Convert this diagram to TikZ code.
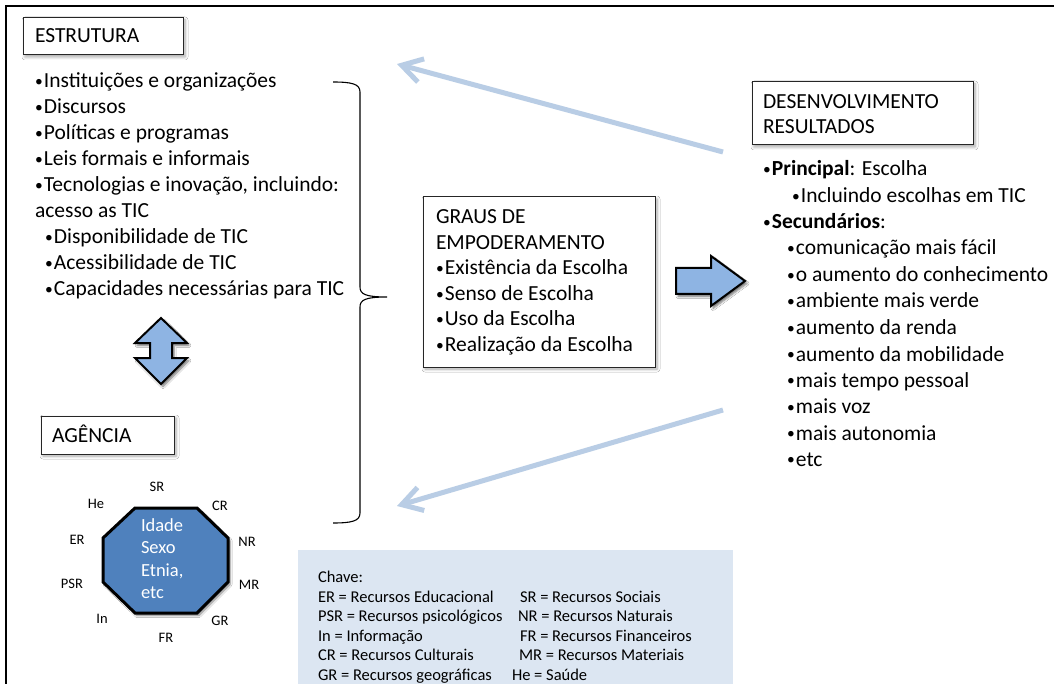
\documentclass[tikz,border=0pt]{standalone}
\usepackage{fontspec}
\setmainfont{Carlito}
\usetikzlibrary{arrows.meta,shadows.blur}

\definecolor{linkblue}{HTML}{B9CDE5}
\definecolor{arrowfill}{HTML}{8EB4E3}
\definecolor{octfill}{HTML}{4F81BD}
\definecolor{keyfill}{HTML}{DCE6F2}

% small list bullet
\newcommand{\bul}{{\fontsize{15.5}{15.5}\selectfont\raisebox{1.2pt}{•}}\kern1.2pt}

\begin{document}
\begin{tikzpicture}[x=1pt,y=-1pt,
  every node/.style={inner sep=0pt, outer sep=0pt},
  txt/.style={anchor=base west, font=\fontsize{21.5}{26}\selectfont},
  keytxt/.style={anchor=base west, font=\fontsize{16.5}{20}\selectfont},
  lbl/.style={font=\fontsize{14.5}{17}\selectfont},
  octtxt/.style={anchor=base west, text=white, font=\fontsize{18.5}{22}\selectfont},
  softshadow/.style={blur shadow={shadow xshift=2pt, shadow yshift=-2pt,
      shadow blur radius=3pt, shadow blur steps=6, shadow opacity=35}},
  titlebox/.style={draw=black!85, line width=1pt, fill=white, anchor=north west, softshadow},
  link/.style={draw=linkblue, line width=5pt,
      -{Straight Barb[length=20pt, width=24pt]}},
  blockarrow/.style={fill=arrowfill, draw=black, line width=2pt, line join=miter,
      blur shadow={shadow xshift=2pt, shadow yshift=-2.5pt, shadow blur radius=2pt,
      shadow blur steps=5, shadow opacity=55}},
]
\clip (0,0) rectangle (1054,684);
\fill[white] (0,0) rectangle (1054,684);

% outer frame (top and left edges)
\draw[line width=2.2pt] (6.3,684) -- (6.3,6.3) -- (1054,6.3);

% ---------- ESTRUTURA ----------
\node[titlebox, minimum width=160pt, minimum height=37pt] (estrbox) at (23,18) {};
\node[txt] (estrtitle) at (35,43) {ESTRUTURA};
\node[txt] (est1) at (35,88)  {\bul Instituições e organizações};
\node[txt] (est2) at (35,114) {\bul Discursos};
\node[txt] (est3) at (35,140) {\bul Políticas e programas};
\node[txt] (est4) at (35,166) {\bul Leis formais e informais};
\node[txt] (est5) at (35,192) {\bul Tecnologias e inovação, incluindo:};
\node[txt] (est6) at (35,218) {acesso as TIC};
\node[txt] (est7) at (45,244) {\bul Disponibilidade de TIC};
\node[txt] (est8) at (45,270) {\bul Acessibilidade de TIC};
\node[txt] (est9) at (45,296) {\bul Capacidades necessárias para TIC};

% large right brace
\draw[line width=1.1pt]
  (333,82) .. controls (352,82) and (360,84) .. (360,92) -- (360,287)
  .. controls (360,294) and (365,297) .. (387,297)
  .. controls (365,297) and (360,300) .. (360,307) -- (360,513)
  .. controls (360,521) and (352,523) .. (333,523);

% two-way arrow between structure and agency
\draw[blockarrow] (161,318) -- (187,343) -- (172,343) -- (172,358) -- (187,358)
  -- (161,384) -- (135,358) -- (150,358) -- (150,343) -- (135,343) -- cycle;

% ---------- AGENCIA ----------
\node[titlebox, minimum width=133pt, minimum height=38pt] (agbox) at (41,416) {};
\node[txt] (agtitle) at (52,442) {AGÊNCIA};

\draw[fill=octfill, draw=black, line width=3pt, line join=miter,
      blur shadow={shadow xshift=2pt, shadow yshift=-2.5pt, shadow blur radius=2pt,
      shadow blur steps=5, shadow opacity=50}]
  (135,508) -- (197,508) -- (228,538) -- (228,582) -- (197,613) -- (135,613)
  -- (103,582) -- (103,538) -- cycle;
\node[octtxt] (oct1) at (141,531) {Idade};
\node[octtxt] (oct2) at (141,553.5) {Sexo};
\node[octtxt] (oct3) at (141,576) {Etnia,};
\node[octtxt] (oct4) at (141,598) {etc};

\node[lbl] (lsr)  at (157,487) {SR};
\node[lbl] (lhe)  at (96,504)  {He};
\node[lbl] (lcr)  at (220,506) {CR};
\node[lbl] (ler)  at (77,540)  {ER};
\node[lbl] (lnr)  at (247,542) {NR};
\node[lbl] (lpsr) at (72,584)  {PSR};
\node[lbl] (lmr)  at (249,585) {MR};
\node[lbl] (lin)  at (102,619) {In};
\node[lbl] (lgr)  at (220,621) {GR};
\node[lbl] (lfr)  at (166,638) {FR};

% ---------- GRAUS DE EMPODERAMENTO ----------
\node[titlebox, minimum width=232pt, minimum height=170pt] (grbox) at (423,197) {};
\node[txt] (gr1) at (436,224)   {GRAUS DE};
\node[txt] (gr2) at (436,249.5) {EMPODERAMENTO};
\node[txt] (gr3) at (436,275)   {\bul Existência da Escolha};
\node[txt] (gr4) at (436,300.5) {\bul Senso de Escolha};
\node[txt] (gr5) at (436,326)   {\bul Uso da Escolha};
\node[txt] (gr6) at (436,351.5) {\bul Realização da Escolha};

% right block arrow
\draw[blockarrow] (676,268) -- (711,268) -- (711,256) -- (745,281) -- (711,306)
  -- (711,294) -- (676,294) -- cycle;

% ---------- DESENVOLVIMENTO ----------
\node[titlebox, minimum width=221pt, minimum height=63pt] (devbox) at (752,82) {};
\node[txt] (dev1) at (763,108.5) {DESENVOLVIMENTO};
\node[txt] (dev2) at (763,133.5) {RESULTADOS};

\node[txt] (r1)  at (763,176)   {\bul\textbf{Principal}: Escolha};
\node[txt] (r2)  at (792,202.5) {\bul Incluindo escolhas em TIC};
\node[txt] (r3)  at (763,229)   {\bul\textbf{Secundários}:};
\node[txt] (r4)  at (787,255)   {\bul comunicação mais fácil};
\node[txt] (r5)  at (787,281.5) {\bul o aumento do conhecimento};
\node[txt] (r6)  at (787,308)   {\bul ambiente mais verde};
\node[txt] (r7)  at (787,334.5) {\bul aumento da renda};
\node[txt] (r8)  at (787,361)   {\bul aumento da mobilidade};
\node[txt] (r9)  at (787,387)   {\bul mais tempo pessoal};
\node[txt] (r10) at (787,413.5) {\bul mais voz};
\node[txt] (r11) at (787,440)   {\bul mais autonomia};
\node[txt] (r12) at (787,466)   {\bul etc};

% feedback arrows
\coordinate (upfrom) at (723,152);
\coordinate (upto)   at (397,64);
\coordinate (dnfrom) at (723,410);
\coordinate (dnto)   at (397,506);
\draw[link] (upfrom) -- (upto);
\draw[link] (dnfrom) -- (dnto);

% ---------- key ----------
\node[fill=keyfill, anchor=north west, minimum width=435pt, minimum height=140pt] (keybox) at (298,550) {};
\node[keytxt] (k0)  at (318,582.5) {Chave:};
\node[keytxt] (k1)  at (318,602)   {ER = Recursos Educacional};
\node[keytxt] (k2)  at (520,602)   {SR = Recursos Sociais};
\node[keytxt] (k3)  at (318,621.5) {PSR = Recursos psicológicos};
\node[keytxt] (k4)  at (518,621.5) {NR = Recursos Naturais};
\node[keytxt] (k5)  at (318,641)   {In = Informação};
\node[keytxt] (k6)  at (520,641)   {FR = Recursos Financeiros};
\node[keytxt] (k7)  at (318,660.5) {CR = Recursos Culturais};
\node[keytxt] (k8)  at (519,660.5) {MR = Recursos Materiais};
\node[keytxt] (k9)  at (318,680)   {GR = Recursos geográficas};
\node[keytxt] (k10) at (512,680)   {He = Saúde};
\end{tikzpicture}
\end{document}
